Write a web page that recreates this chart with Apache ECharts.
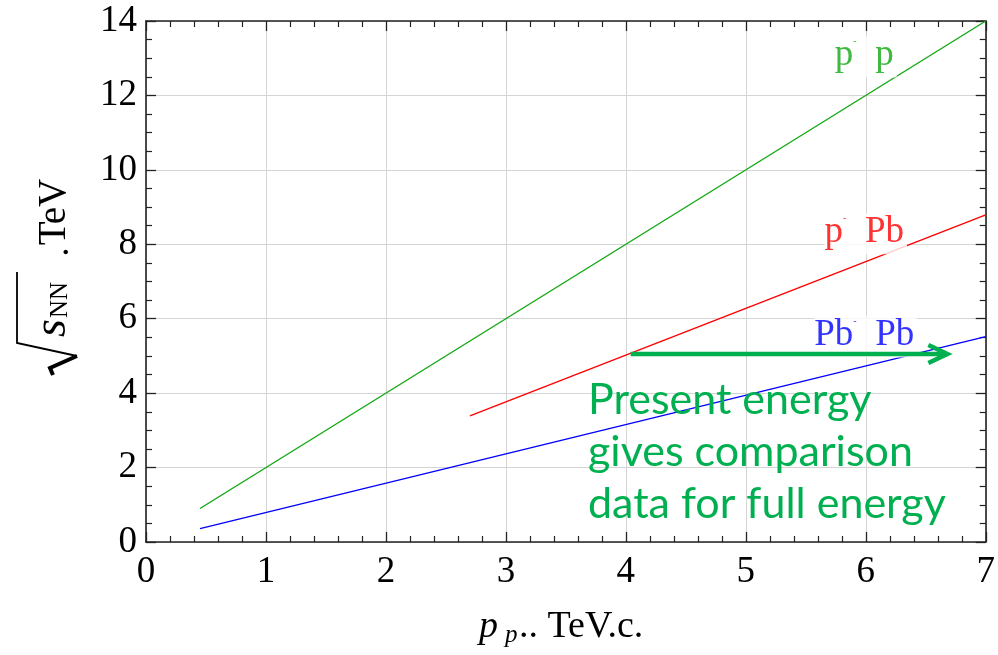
<!DOCTYPE html>
<html>
<head>
<meta charset="utf-8">
<script src="https://cdn.jsdelivr.net/npm/echarts@6/dist/echarts.min.js"></script>
<style>
  html, body { margin: 0; padding: 0; background: #fff; }
  #chart { width: 998px; height: 655px; }
</style>
</head>
<body>
<div id="chart"></div>
<script>
// Centre-of-mass energy versus proton beam momentum for the three LHC collision systems
const ppLine   = [[0.45, 0.9], [7, 14]];
const pPbLine  = [[2.7, 3.39], [7, 8.79]];
const PbPbLine = [[0.45, 0.36], [7, 5.52]];

// Curve labels: anchor point in data units and text
const labelPoints = [[6.0, 13.03], [6.0, 8.28], [6.0, 5.51]];
const labelFirst  = ['p', 'p', 'Pb'];
const labelSecond = ['p', 'Pb', 'Pb'];

// Arrow from present to full energy
const arrowFrom = [4.04, 5.05];
const arrowTo   = [6.68, 5.05];

const xTicks = { min: 0, max: 7, step: 1 };
const yTicks = { min: 0, max: 14, step: 2 };

const GREEN = '#12a812';
const RED = '#ff0000';
const BLUE = '#0000ff';
const NOTE = '#00b050';
const SERIF = '"Liberation Serif", "Times New Roman", serif';
const labelColors = [GREEN, RED, BLUE];

const chart = echarts.init(document.getElementById('chart'), null, { renderer: 'canvas' });

function frameAxis(pos, range, minorSplit, showLabels) {
  const vertical = pos === 'left' || pos === 'right';
  return {
    type: 'value',
    position: pos,
    min: range.min,
    max: range.max,
    interval: range.step,
    axisLine: { show: true, onZero: false, lineStyle: { color: '#222', width: 1.6 } },
    axisTick: { show: true, inside: true, length: 10, lineStyle: { color: '#222', width: 1.3 } },
    minorTick: { show: true, splitNumber: minorSplit, length: 6, lineStyle: { color: '#222', width: 1.2 } },
    axisLabel: {
      show: showLabels,
      color: '#000',
      fontFamily: SERIF,
      fontSize: 37,
      margin: vertical ? 9 : 12
    },
    splitLine: { show: showLabels, lineStyle: { color: '#d4d4d4', width: 1 } },
    minorSplitLine: { show: false }
  };
}

function lineSeries(name, data, color) {
  return {
    name: name,
    type: 'line',
    data: data,
    showSymbol: false,
    symbol: 'none',
    xAxisIndex: 0,
    yAxisIndex: 0,
    lineStyle: { color: color, width: 1.4 },
    z: 2,
    silent: true,
    animation: false
  };
}

const labelData = labelPoints.map((p, i) => ({
  value: p,
  label: {
    formatter: '{a|' + labelFirst[i] + '}{m|-}{a|  ' + labelSecond[i] + '}',
    rich: {
      a: { fontFamily: SERIF, fontSize: 37, color: labelColors[i] },
      m: { fontFamily: SERIF, fontSize: 10, color: labelColors[i], verticalAlign: 'top' }
    }
  }
}));

const option = {
  animation: false,
  backgroundColor: '#fff',
  grid: { left: 146, right: 12, top: 21, bottom: 113, containLabel: false },
  xAxis: [frameAxis('bottom', xTicks, 5, true), frameAxis('top', xTicks, 5, false)],
  yAxis: [frameAxis('left', yTicks, 4, true), frameAxis('right', yTicks, 4, false)],
  series: [
    lineSeries('p p', ppLine, GREEN),
    lineSeries('p Pb', pPbLine, RED),
    lineSeries('Pb Pb', PbPbLine, BLUE),
    {
      type: 'scatter',
      data: labelData,
      symbolSize: 0,
      xAxisIndex: 0,
      yAxisIndex: 0,
      z: 4,
      silent: true,
      label: {
        show: true,
        position: 'inside',
        backgroundColor: '#fff',
        padding: [0, 3, 4, 0]
      }
    },
    {
      type: 'custom',
      xAxisIndex: 0,
      yAxisIndex: 0,
      z: 5,
      silent: true,
      encode: { x: [0, 2], y: [1, 3] },
      data: [[arrowFrom[0], arrowFrom[1], arrowTo[0], arrowTo[1]]],
      renderItem: function (params, api) {
        const p0 = api.coord([api.value(0), api.value(1)]);
        const p1 = api.coord([api.value(2), api.value(3)]);
        const len = 19, half = 9;
        return {
          type: 'group',
          children: [
            {
              type: 'line',
              shape: { x1: p0[0], y1: p0[1], x2: p1[0] - 3, y2: p1[1] },
              style: { stroke: NOTE, lineWidth: 4.5 }
            },
            {
              type: 'polyline',
              shape: { points: [[p1[0] - len, p1[1] - half], [p1[0], p1[1]], [p1[0] - len, p1[1] + half]] },
              style: { stroke: NOTE, lineWidth: 4.5, fill: null, lineJoin: 'miter' }
            }
          ]
        };
      }
    }
  ],
  graphic: [
    // note under the arrow
    {
      type: 'text',
      left: 588,
      top: 374,
      z: 10,
      style: {
        text: 'Present energy\ngives comparison\ndata for full energy',
        fill: NOTE,
        fontFamily: 'Lato, "Noto Sans", sans-serif',
        fontSize: 43,
        lineHeight: 52
      }
    },
    // x-axis title: p_p (TeV/c)
    { type: 'text', x: 479, y: 627, style: { text: 'p', font: 'italic 38px ' + SERIF, fill: '#000', align: 'left', verticalAlign: 'middle' } },
    { type: 'text', x: 505, y: 635, style: { text: 'p', font: 'italic 25px ' + SERIF, fill: '#000', align: 'left', verticalAlign: 'middle' } },
    { type: 'text', x: 519, y: 627, style: { text: '.. TeV.c.', font: '38px ' + SERIF, fill: '#000', align: 'left', verticalAlign: 'middle' } },
    // y-axis title: sqrt(s_NN) (TeV), rotated
    { type: 'polyline', shape: { points: [[17, 272], [17, 343], [77, 356]] }, style: { stroke: '#000', lineWidth: 1.8, fill: null } },
    { type: 'polyline', shape: { points: [[77, 356], [50, 368], [53, 375]] }, style: { stroke: '#000', lineWidth: 4, fill: null, lineJoin: 'miter' } },
    { type: 'text', x: 53, y: 328, rotation: Math.PI / 2, style: { text: 's', font: 'italic 46px ' + SERIF, fill: '#000', align: 'center', verticalAlign: 'middle' } },
    { type: 'text', x: 60, y: 300, rotation: Math.PI / 2, style: { text: 'NN', font: '25px ' + SERIF, fill: '#000', align: 'center', verticalAlign: 'middle' } },
    { type: 'text', x: 58, y: 252, rotation: Math.PI / 2, style: { text: '.', font: '38px ' + SERIF, fill: '#000', align: 'center', verticalAlign: 'middle' } },
    { type: 'text', x: 55, y: 212, rotation: Math.PI / 2, style: { text: 'TeV', font: '39px ' + SERIF, fill: '#000', align: 'center', verticalAlign: 'middle' } }
  ]
};

chart.setOption(option);
</script>
</body>
</html>
